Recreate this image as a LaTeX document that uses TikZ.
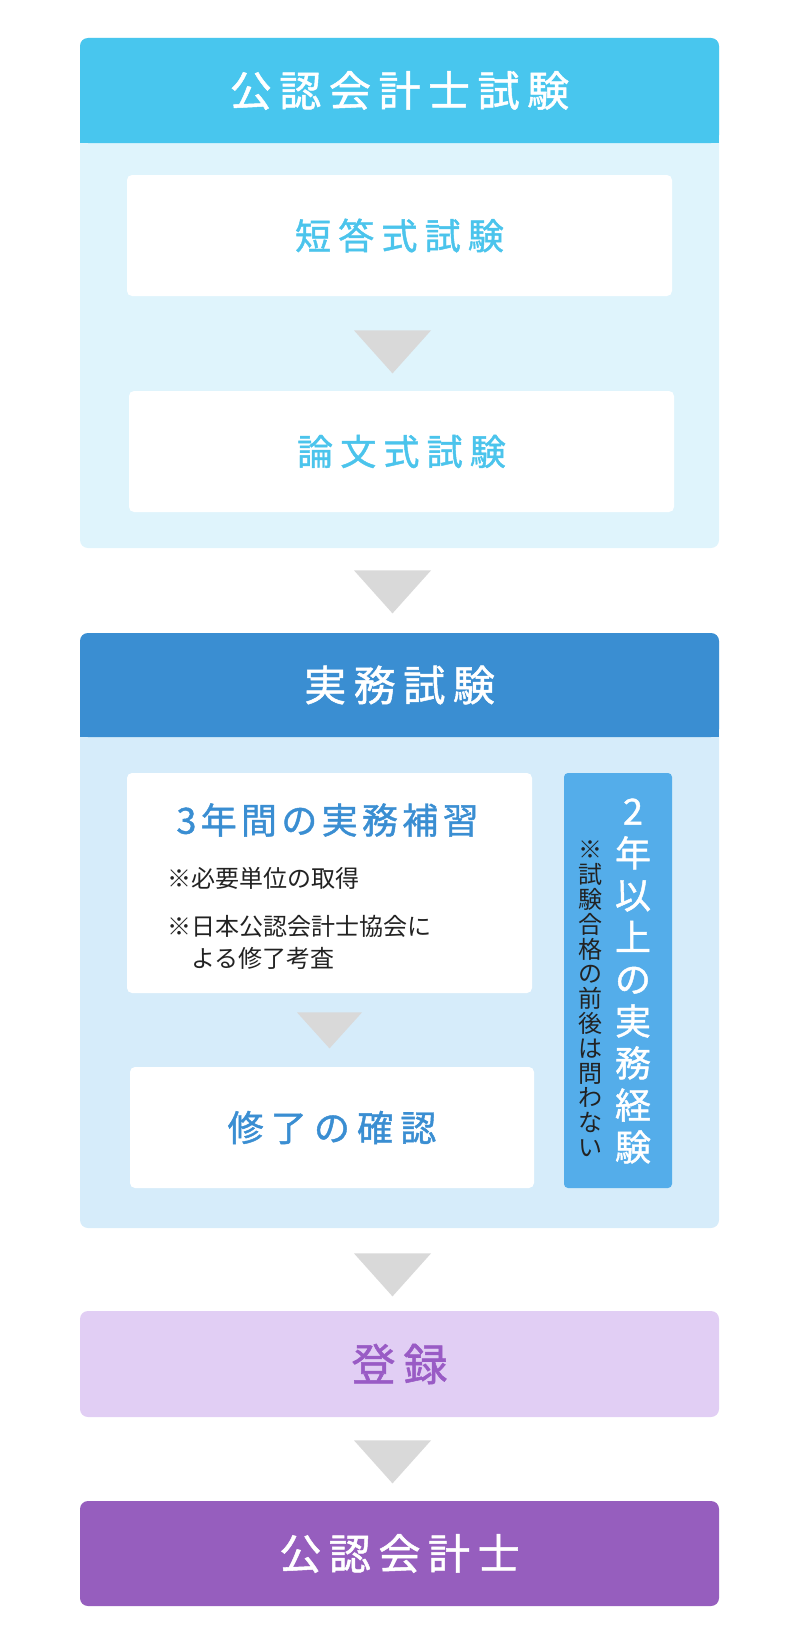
\documentclass[tikz,border=0pt]{standalone}
\usepackage{fontspec}
\setmainfont{Noto Sans CJK JP}
\newfontfamily\headfont[LetterSpace=18, FakeBold=1.2]{Noto Sans CJK JP}
\newfontfamily\stepfont[LetterSpace=20, FakeBold=1.2]{Noto Sans CJK JP}
\newfontfamily\hoshufont[LetterSpace=12, FakeBold=1.2]{Noto Sans CJK JP}
\newfontfamily\tatefont[FakeBold=1.2]{Noto Sans CJK JP}
\usepackage{tikz}
\usetikzlibrary{calc, positioning}

\definecolor{skyhead}{RGB}{72,198,238}
\definecolor{skypanel}{RGB}{223,244,252}
\definecolor{skytext}{RGB}{75,196,236}
\definecolor{bluehead}{RGB}{58,142,210}
\definecolor{bluepanel}{RGB}{214,236,250}
\definecolor{sidebox}{RGB}{84,173,234}
\definecolor{arrowgray}{RGB}{217,217,217}
\definecolor{purplelight}{RGB}{225,206,244}
\definecolor{purpletext}{RGB}{153,91,197}
\definecolor{purpledark}{RGB}{150,94,190}
\definecolor{notetext}{RGB}{34,34,34}

\newcommand\pxu{0.5pt}

\begin{document}
\begin{tikzpicture}[x=0.5pt, y=-0.5pt,
    box/.style 2 args={rectangle, inner sep=0pt, minimum width=#1*\pxu, minimum height=#2*\pxu},
    outer/.style={rounded corners=8*\pxu},
    inner/.style={fill=white, rounded corners=5*\pxu},
    tri/.style={fill=arrowgray},
    headtext/.style={font={\headfont\fontsize{21pt}{21pt}\selectfont}, text=white},
    steptext/.style={font={\stepfont\fontsize{18pt}{18pt}\selectfont}},
    notefont/.style={font={\fontsize{12pt}{16pt}\selectfont}, text=notetext}]
    \useasboundingbox (0,0) rectangle (800,1643);

    % 公認会計士試験
    \node[box={639}{510}, outer, fill=skypanel] (shiken) at (399.5,293) {};
    \node[box={639}{105}, outer, fill=skyhead, headtext] (shikenhead) at (399.5,90.5) {公認会計士試験};
    \fill[skyhead] (shikenhead.south west) rectangle ($(shikenhead.south east)+(0,-10)$);
    \node[box={545}{121}, inner, steptext, text=skytext] (tanto) at (399.5,235.5) {短答式試験};
    \node[box={545}{121}, inner, steptext, text=skytext] (ronbun) at (401.5,451.5) {論文式試験};
    \fill[tri] ($(tanto.south)+(-45.5,34)$) -- ++(77,0) -- ++(-38.5,43) -- cycle;
    \fill[tri] ($(shiken.south)+(-45.5,22)$) -- ++(77,0) -- ++(-38.5,43) -- cycle;

    % 実務試験
    \node[box={639}{595}, outer, fill=bluepanel] (jitsumu) at (399.5,930.5) {};
    \node[box={639}{104}, outer, fill=bluehead, headtext] (jitsumuhead) at (399.5,685) {実務試験};
    \fill[bluehead] (jitsumuhead.south west) rectangle ($(jitsumuhead.south east)+(0,-10)$);
    \node[box={405}{220}, inner] (hoshu) at (329.5,883) {};
    \node[font={\hoshufont\fontsize{18pt}{18pt}\selectfont}, text=bluehead, inner sep=0pt] (hoshutitle) at (327.5,820) {3年間の実務補習};
    \node[notefont, anchor=west, inner sep=0pt] (hoshunote) at (167,878) {※必要単位の取得};
    \node[notefont, anchor=west, align=left, inner sep=0pt] (kousa) at (167,942) {※日本公認会計士協会に\\\hspace*{1em}よる修了考査};
    \node[box={404}{121}, inner, steptext, text=bluehead] (shuryo) at (332,1127.5) {修了の確認};
    \fill[tri] ($(hoshu.south)+(-32.5,19)$) -- ++(65,0) -- ++(-32.5,36) -- cycle;
    \node[box={108}{415}, rounded corners=4*\pxu, fill=sidebox] (keiken) at (618,980.5) {};
    \node[font={\tatefont\fontsize{18pt}{21pt}\selectfont}, text=white, align=center, inner sep=0pt] (keikentitle) at (633,981)
        {2\\年\\以\\上\\の\\実\\務\\経\\験};
    \node[font={\fontsize{12pt}{12.4pt}\selectfont}, text=notetext, align=center, inner sep=0pt] (keikennote) at (590,999)
        {※\\試\\験\\合\\格\\の\\前\\後\\は\\問\\わ\\な\\い};
    \fill[tri] ($(jitsumu.south)+(-45.5,25)$) -- ++(77,0) -- ++(-38.5,43) -- cycle;

    % 登録
    \node[box={639}{106}, outer, fill=purplelight, font={\headfont\fontsize{22pt}{22pt}\selectfont}, text=purpletext] (toroku) at (399.5,1364) {登録};
    \fill[tri] ($(toroku.south)+(-45.5,23)$) -- ++(77,0) -- ++(-38.5,43) -- cycle;

    % 公認会計士
    \node[box={639}{105}, outer, fill=purpledark, headtext] (kaikeishi) at (399.5,1553.5) {公認会計士};
\end{tikzpicture}
\end{document}
